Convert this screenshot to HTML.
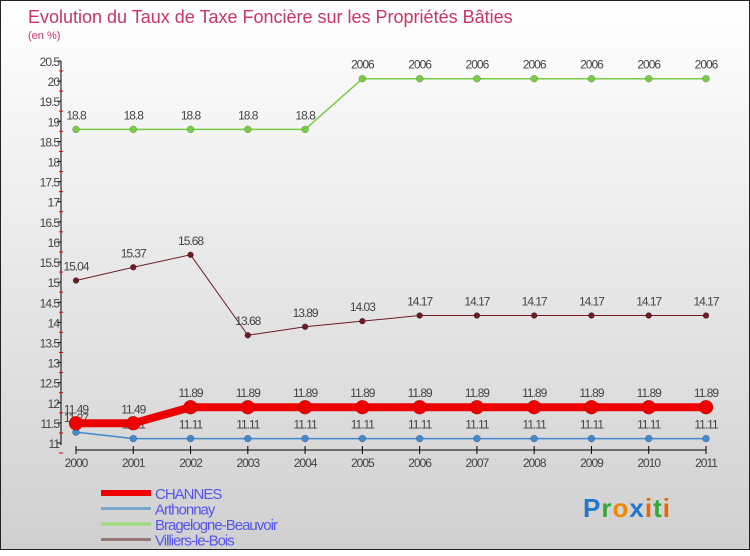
<!DOCTYPE html>
<html><head><meta charset="utf-8"><style>
body{margin:0}
#c{width:750px;height:550px;position:relative;background:linear-gradient(#ffffff,#d0d0d0);font-family:"Liberation Sans",sans-serif;box-sizing:border-box;border:1px solid #222}
text{font-family:"Liberation Sans",sans-serif}
</style></head><body>
<div id="c">
<svg id="s" width="750" height="550"></svg>
</div>
<script>
const years=[2000,2001,2002,2003,2004,2005,2006,2007,2008,2009,2010,2011];
const channes=[11.49,11.49,11.89,11.89,11.89,11.89,11.89,11.89,11.89,11.89,11.89,11.89];
const arthonnay=[11.27,11.11,11.11,11.11,11.11,11.11,11.11,11.11,11.11,11.11,11.11,11.11];
const bragelogne=[18.8,18.8,18.8,18.8,18.8,20.06,20.06,20.06,20.06,20.06,20.06,20.06];
const villiers=[15.04,15.37,15.68,13.68,13.89,14.03,14.17,14.17,14.17,14.17,14.17,14.17];
const bragLabels=["18.8","18.8","18.8","18.8","18.8","2006","2006","2006","2006","2006","2006","2006"];
const yTicks=[11,11.5,12,12.5,13,13.5,14,14.5,15,15.5,16,16.5,17,17.5,18,18.5,19,19.5,20,20.5];
const NS="http://www.w3.org/2000/svg";
const s=document.getElementById('s');
const X=i=>75+i*(630/11);
const Y=v=>442-(v-11)*(382/9.5);
function el(t,a,p){const e=document.createElementNS(NS,t);for(const k in a)e.setAttribute(k,a[k]);(p||s).appendChild(e);return e;}
function tx(x,y,str,a){const e=el('text',Object.assign({x:x,y:y},a));e.textContent=str;return e;}
let t=tx(27,22,"Evolution du Taux de Taxe Foncière sur les Propriétés Bâties",{'font-size':18,fill:'#cc3366'});

t=tx(27,38,"(en %)",{'font-size':11,fill:'#cc3366'});

// axes
let ax=el('line',{x1:60,y1:60,x2:60,y2:444,stroke:'#000'});

yTicks.forEach(v=>{const y=Y(v);el('line',{x1:56,x2:60,y1:y,y2:y,stroke:'#000'});
el('line',{x1:58,x2:62,y1:y+10,y2:y+10,stroke:'#e00'});
const l=tx(58,y+5,String(v),{'font-size':12,fill:'#444','text-anchor':'end','letter-spacing':'-1'});
});
let xa=el('line',{x1:75,y1:449,x2:705,y2:449,stroke:'#000'});

years.forEach((yr,i)=>{el('line',{x1:X(i),x2:X(i),y1:445,y2:453,stroke:'#000'});
const l=tx(X(i),466,String(yr),{'font-size':12,fill:'#444','text-anchor':'middle','letter-spacing':'-1'});
});
function series(vals,color,w,r,name,labels){
 const g=el('g',{});
 el('polyline',{points:vals.map((v,i)=>X(i)+','+Y(v)).join(' '),fill:'none',stroke:color,'stroke-width':w},g);
 vals.forEach((v,i)=>{const c=el('circle',{cx:X(i),cy:Y(v),r:r,fill:color,stroke:'rgba(0,0,0,0.3)','stroke-width':0.5},g);
 
 const l=tx(X(i),Y(v)-10,labels?labels[i]:String(v),{'font-size':12,fill:'#444','text-anchor':'middle','letter-spacing':'-1'},g);
 });
}
series(bragelogne,'#77cc44',1.5,3.5,'bragelogne',bragLabels);
series(villiers,'#6b1c24',1,3,'villiers');
series(arthonnay,'#4488cc',1.5,3.5,'arthonnay');
series(channes,'#ee0000',8,7,'channes');
// legend
const leg=[["CHANNES","#ee0000",6],["Arthonnay","#77a8cc",3],["Bragelogne-Beauvoir","#99dd77",3],["Villiers-le-Bois","#997777",3]];
leg.forEach((d,i)=>{const y=492+i*15.5;const g=el('g',{});

el('line',{x1:100,x2:150,y1:y,y2:y,stroke:d[1],'stroke-width':d[2]},g);
tx(154,y+6,d[0],{'font-size':15,fill:'#5555ee','letter-spacing':'-1'},g);});
const p=el('text',{x:582,y:516,'font-size':26,'font-weight':'bold','letter-spacing':'1'});

[["P","#2277cc"],["r","#33aa33"],["o","#ee8800"],["x","#2277cc"],["i","#ee6600"],["t","#33aa33"],["i","#ee6600"]].forEach(c=>{const ts=el('tspan',{fill:c[1]},p);ts.textContent=c[0];});
</script>
</body></html>
